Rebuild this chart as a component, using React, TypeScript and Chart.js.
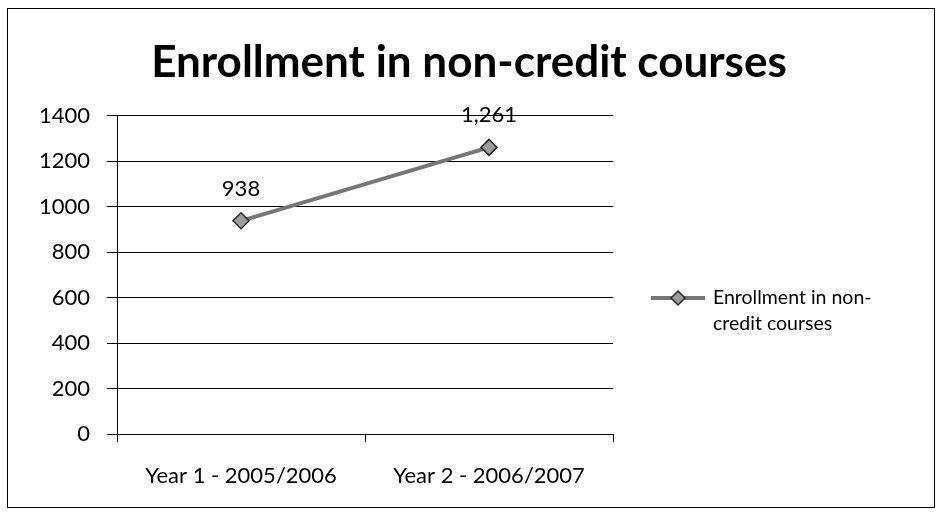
import React, { useEffect, useRef } from "react";
import { Chart, registerables, layouts } from "chart.js";

Chart.register(...registerables);

const categories = ["Year 1 - 2005/2006", "Year 2 - 2006/2007"];
const enrollment = [938, 1261];
const seriesLabel = "Enrollment in non-credit courses";
const legendLines = ["Enrollment in non-", "credit courses"];
const titleText = "Enrollment in non-credit courses";

const FONT = "Lato, 'Open Sans', sans-serif";

const rightSpacerPlugin = {
  id: "rightSpacer",
  beforeInit(chart: any) {
    const box: any = {
      position: "right",
      weight: 0,
      fullSize: false,
      options: {},
      left: 0,
      top: 0,
      right: 0,
      bottom: 0,
      width: 0,
      height: 0,
      isHorizontal() {
        return false;
      },
      update(maxWidth: number, maxHeight: number) {
        this.width = 325;
        this.height = maxHeight;
      },
      draw() {},
    };
    layouts.addBox(chart, box);
  },
};

const borderPlugin = {
  id: "outerBorder",
  afterDraw(chart: any) {
    const ctx = chart.ctx;
    ctx.save();
    ctx.strokeStyle = "#000";
    ctx.lineWidth = 1;
    ctx.strokeRect(7.5, 8.5, 927, 499);
    ctx.restore();
  },
};

const dataLabelPlugin = {
  id: "dataLabels",
  afterDatasetsDraw(chart: any) {
    const ctx = chart.ctx;
    const meta = chart.getDatasetMeta(0);
    const data = chart.data.datasets[0].data as number[];
    ctx.save();
    ctx.fillStyle = "#000";
    ctx.font = `22px ${FONT}`;
    ctx.textAlign = "center";
    ctx.textBaseline = "middle";
    meta.data.forEach((pt: any, i: number) => {
      ctx.fillText(data[i].toLocaleString("en-US"), pt.x, pt.y - 32);
    });
    ctx.restore();
  },
};

const legendPlugin = {
  id: "sideLegend",
  afterDraw(chart: any) {
    const ctx = chart.ctx;
    const area = chart.chartArea;
    const ds = chart.data.datasets[0];
    const y = 298;
    const x0 = area.right + 38;
    const x1 = area.right + 92;
    ctx.save();
    ctx.strokeStyle = ds.borderColor;
    ctx.lineWidth = ds.borderWidth;
    ctx.beginPath();
    ctx.moveTo(x0, y);
    ctx.lineTo(x1, y);
    ctx.stroke();
    const cx = (x0 + x1) / 2;
    const r = 7;
    ctx.beginPath();
    ctx.moveTo(cx, y - r);
    ctx.lineTo(cx + r, y);
    ctx.lineTo(cx, y + r);
    ctx.lineTo(cx - r, y);
    ctx.closePath();
    ctx.fillStyle = ds.pointBackgroundColor;
    ctx.fill();
    ctx.strokeStyle = ds.pointBorderColor;
    ctx.lineWidth = 1.5;
    ctx.stroke();
    ctx.fillStyle = "#000";
    ctx.font = `19.5px ${FONT}`;
    ctx.textAlign = "left";
    ctx.textBaseline = "middle";
    legendLines.forEach((line, i) => {
      ctx.fillText(line, x1 + 8, y + i * 26);
    });
    ctx.restore();
  },
};

export default function App() {
  const canvasRef = useRef<HTMLCanvasElement | null>(null);

  useEffect(() => {
    if (!canvasRef.current) return;
    const chart = new Chart(canvasRef.current, {
      type: "line",
      data: {
        labels: categories,
        datasets: [
          {
            label: seriesLabel,
            data: enrollment,
            borderColor: "#767676",
            borderWidth: 4,
            pointStyle: "rectRot",
            pointRadius: 8,
            pointBackgroundColor: "#9c9c9c",
            pointBorderColor: "#2a2a2a",
            pointBorderWidth: 1.5,
            tension: 0,
          },
        ],
      },
      options: {
        responsive: false,
        animation: false,
        layout: { padding: { left: 0, right: 0, top: 0, bottom: 0 } },
        plugins: {
          legend: { display: false },
          tooltip: { enabled: false },
          title: {
            display: true,
            text: titleText,
            color: "#000",
            font: { family: FONT, size: 44, weight: "bold", lineHeight: 1.2 },
            padding: { top: 36, bottom: 27 },
          },
        },
        scales: {
          x: {
            type: "category",
            offset: true,
            grid: {
              offset: true,
              drawOnChartArea: false,
              drawTicks: true,
              tickLength: 8,
              color: "#000",
            },
            border: { display: true, color: "#000", width: 1 },
            ticks: { color: "#000", font: { family: FONT, size: 22 }, padding: 21 },
            afterFit(scale: any) {
              scale.height = 87;
            },
          },
          y: {
            min: 0,
            max: 1400,
            ticks: {
              stepSize: 200,
              color: "#000",
              font: { family: FONT, size: 22 },
              padding: 17,
              callback: (v: any) => String(v),
            },
            grid: { color: "#000", lineWidth: 1, tickLength: 10 },
            border: { display: true, color: "#000", width: 1 },
            afterFit(scale: any) {
              scale.width = 117;
            },
          },
        },
      },
      plugins: [rightSpacerPlugin, borderPlugin, dataLabelPlugin, legendPlugin],
    });
    return () => chart.destroy();
  }, []);

  return (
    <div style={{ position: "absolute", left: 0, top: 0, width: 938, height: 521, background: "#fff" }}>
      <canvas ref={canvasRef} width={938} height={521} style={{ display: "block" }} />
    </div>
  );
}
